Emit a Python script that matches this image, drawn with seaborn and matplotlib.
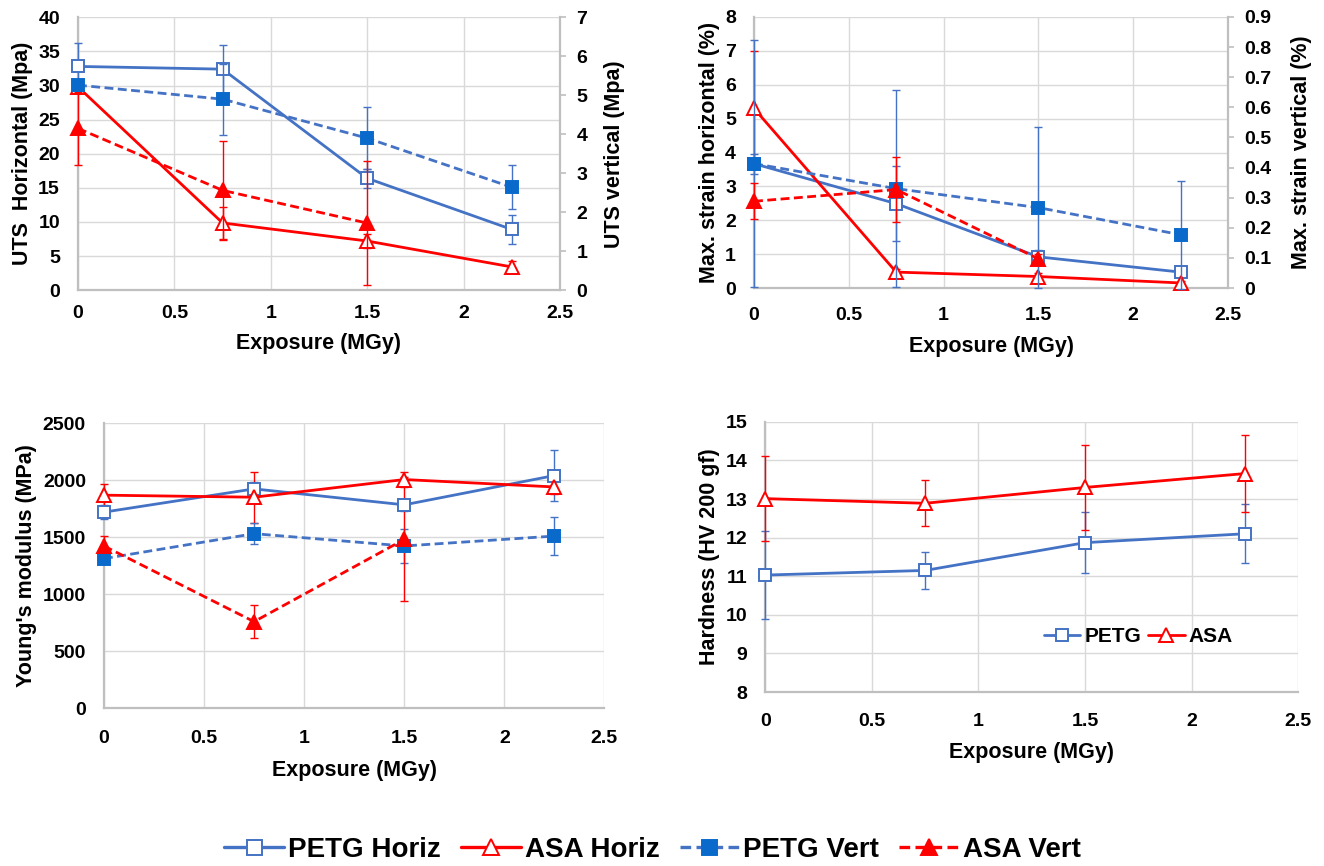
import matplotlib
matplotlib.use("Agg")
import matplotlib.pyplot as plt
from matplotlib.lines import Line2D
import seaborn as sns
import numpy as np

# ---------------- data ----------------
exposure = [0, 0.75, 1.5, 2.25]
exposure_asa_vert = [0, 0.75, 1.5]

# UTS
uts_petg_h = [32.8, 32.4, 16.4, 8.9]
uts_petg_h_err = [3.5, 3.6, 1.4, 2.1]
uts_asa_h = [29.8, 9.85, 7.2, 3.4]
uts_asa_h_err = [0.5, 2.3, 1.0, 0.8]
uts_petg_v = [5.26, 4.90, 3.90, 2.64]
uts_petg_v_err = [0.10, 0.91, 0.79, 0.56]
uts_asa_v = [4.15, 2.56, 1.72]
uts_asa_v_err = [0.93, 1.27, 1.60]

# Max strain
str_petg_h = [3.67, 2.49, 0.92, 0.47]
str_petg_h_err = [0.3, 1.1, 0.2, 0.1]
str_asa_h = [5.3, 0.47, 0.34, 0.15]
str_asa_h_err = [1.7, 0.1, 0.1, 0.05]
str_petg_v = [0.413, 0.330, 0.267, 0.177]
str_petg_v_err = [0.41, 0.326, 0.267, 0.18]
str_asa_v = [0.288, 0.327, 0.097]
str_asa_v_err = [0.06, 0.107, 0.015]

# Young's modulus
ym_petg_h = [1719, 1923, 1783, 2040]
ym_petg_h_err = [60, 60, 50, 225]
ym_asa_h = [1868, 1850, 2005, 1940]
ym_asa_h_err = [100, 225, 67, 60]
ym_petg_v = [1311, 1530, 1422, 1509]
ym_petg_v_err = [40, 90, 145, 163]
ym_asa_v = [1422, 758, 1480]
ym_asa_v_err = [90, 145, 545]

# Hardness
hv_petg = [11.03, 11.15, 11.87, 12.10]
hv_petg_err = [1.13, 0.47, 0.79, 0.76]
hv_asa = [13.01, 12.89, 13.30, 13.66]
hv_asa_err = [1.10, 0.60, 1.10, 1.00]

legend_labels = ["PETG Horiz", "ASA Horiz", "PETG Vert", "ASA Vert"]

# ---------------- style ----------------
sns.set_style("white")
plt.rcParams['font.family'] = ['Liberation Sans', 'DejaVu Sans']
plt.rcParams['font.weight'] = 'bold'
plt.rcParams['text.color'] = 'black'
plt.rcParams['axes.labelcolor'] = 'black'
plt.rcParams['xtick.color'] = 'black'
plt.rcParams['ytick.color'] = 'black'

BLUE = '#4472C4'
BLUE_F = '#0A6ACB'
RED = '#FF0000'
GRID = '#D9D9D9'
SPINE = '#BFBFBF'
TICK_FS = 14
LABEL_FS = 15.5

DASH = (0, (3.2, 1.6))

styles = {
    'petg_h': dict(color=BLUE, marker='s', ms=9, mfc='white', mec=BLUE, ls='-', lw=2.0),
    'asa_h': dict(color=RED, marker='^', ms=10, mfc='white', mec=RED, ls='-', lw=2.0),
    'petg_v': dict(color=BLUE, marker='s', ms=9, mfc=BLUE_F, mec=BLUE_F, ls=DASH, lw=2.0),
    'asa_v': dict(color=RED, marker='^', ms=10, mfc=RED, mec=RED, ls=DASH, lw=2.0),
}


def series(ax, x, y, err, key, z=3):
    st = styles[key]
    cont = ax.errorbar(x, y, yerr=err, fmt='none', ecolor=st['color'], elinewidth=1.0,
                       capsize=3, capthick=1.0, zorder=z)
    for art in cont.get_children():
        art.set_clip_on(False)
    sns.lineplot(x=x, y=y, ax=ax, color=st['color'], linestyle=st['ls'], linewidth=st['lw'],
                 marker=st['marker'], markersize=st['ms'], markerfacecolor=st['mfc'],
                 markeredgecolor=st['mec'], markeredgewidth=1.4, sort=False,
                 errorbar=None, zorder=z + 1, clip_on=False)


def style_axes(ax, ylim, yticks, xpad, xlabelpad):
    ax.set_xlim(0, 2.5)
    ax.set_xticks([0, 0.5, 1, 1.5, 2, 2.5])
    ax.set_xticklabels(['0', '0.5', '1', '1.5', '2', '2.5'])
    ax.set_ylim(*ylim)
    ax.set_yticks(yticks)
    ax.grid(True, color=GRID, lw=1.0)
    ax.set_axisbelow(True)
    for s in ['top', 'right']:
        ax.spines[s].set_visible(False)
    for s in ['left', 'bottom']:
        ax.spines[s].set_color(SPINE)
        ax.spines[s].set_linewidth(1.6)
    ax.tick_params(axis='both', length=0, labelsize=TICK_FS, labelcolor='black')
    ax.tick_params(axis='x', pad=xpad)
    ax.tick_params(axis='y', pad=13)
    for lab in ax.get_xticklabels() + ax.get_yticklabels():
        lab.set_fontweight('bold')
    ax.set_xlabel('Exposure (MGy)', fontsize=LABEL_FS, fontweight='bold',
                  labelpad=xlabelpad, color='black')


def style_twin(ax2, ylim, yticks, labels):
    ax2.set_ylim(*ylim)
    ax2.set_yticks(yticks)
    ax2.set_yticklabels(labels)
    ax2.grid(False)
    for s in ['top', 'left', 'bottom']:
        ax2.spines[s].set_visible(False)
    ax2.spines['right'].set_color(SPINE)
    ax2.spines['right'].set_linewidth(1.6)
    ax2.tick_params(axis='y', length=4, width=1.2, color=SPINE, labelcolor='black',
                    labelsize=TICK_FS, pad=8)
    for lab in ax2.get_yticklabels():
        lab.set_fontweight('bold')


fig = plt.figure(figsize=(13.24, 8.66), dpi=100)

# ---- Panel 1: UTS ----
ax1 = fig.add_axes([0.0589, 0.665, 0.364, 0.315])
series(ax1, exposure, uts_petg_h, uts_petg_h_err, 'petg_h')
series(ax1, exposure, uts_asa_h, uts_asa_h_err, 'asa_h')
style_axes(ax1, (0, 40), np.arange(0, 41, 5), xpad=11, xlabelpad=8)
ax1.set_ylabel('UTS  Horizontal (Mpa)', fontsize=LABEL_FS, fontweight='bold', labelpad=4)
ax1b = ax1.twinx()
series(ax1b, exposure, uts_petg_v, uts_petg_v_err, 'petg_v')
series(ax1b, exposure_asa_vert, uts_asa_v, uts_asa_v_err, 'asa_v')
style_twin(ax1b, (0, 7), range(0, 8), [str(i) for i in range(0, 8)])
ax1b.set_ylabel('UTS vertical (Mpa)', fontsize=LABEL_FS, fontweight='bold', labelpad=12)

# ---- Panel 2: strain ----
ax2 = fig.add_axes([0.5695, 0.6674, 0.358, 0.313])
series(ax2, exposure, str_petg_h, str_petg_h_err, 'petg_h')
series(ax2, exposure, str_asa_h, str_asa_h_err, 'asa_h')
style_axes(ax2, (0, 8), range(0, 9), xpad=14, xlabelpad=8)
ax2.set_ylabel('Max. strain horizontal (%)', fontsize=LABEL_FS, fontweight='bold', labelpad=4)
ax2b = ax2.twinx()
series(ax2b, exposure, str_petg_v, str_petg_v_err, 'petg_v')
series(ax2b, exposure_asa_vert, str_asa_v, str_asa_v_err, 'asa_v')
rt = [round(0.1 * i, 1) for i in range(10)]
style_twin(ax2b, (0, 0.9), rt, ['0'] + [f'{v:.1f}' for v in rt[1:]])
ax2b.set_ylabel('Max. strain vertical (%)', fontsize=LABEL_FS, fontweight='bold', labelpad=14)

# ---- Panel 3: Young's modulus ----
ax3 = fig.add_axes([0.0785, 0.1824, 0.378, 0.329])
series(ax3, exposure, ym_petg_h, ym_petg_h_err, 'petg_h')
series(ax3, exposure, ym_asa_h, ym_asa_h_err, 'asa_h')
series(ax3, exposure, ym_petg_v, ym_petg_v_err, 'petg_v')
series(ax3, exposure_asa_vert, ym_asa_v, ym_asa_v_err, 'asa_v')
style_axes(ax3, (0, 2500), range(0, 2501, 500), xpad=16, xlabelpad=9)
ax3.set_ylabel("Young's modulus (MPa)", fontsize=LABEL_FS, fontweight='bold', labelpad=4)

# ---- Panel 4: hardness ----
ax4 = fig.add_axes([0.578, 0.2009, 0.4026, 0.312])
series(ax4, exposure, hv_petg, hv_petg_err, 'petg_h')
series(ax4, exposure, hv_asa, hv_asa_err, 'asa_h')
style_axes(ax4, (8, 15), range(8, 16), xpad=15, xlabelpad=9)
ax4.set_ylabel('Hardness (HV 200 gf)', fontsize=LABEL_FS, fontweight='bold', labelpad=4)


def handle(key, scale=1.0):
    st = styles[key]
    return Line2D([], [], color=st['color'], linestyle=st['ls'], linewidth=st['lw'] * scale,
                  marker=st['marker'], markersize=st['ms'] * scale, markerfacecolor=st['mfc'],
                  markeredgecolor=st['mec'], markeredgewidth=1.4)


ax4.legend([handle('petg_h'), handle('asa_h')], ['PETG', 'ASA'],
           loc='center', bbox_to_anchor=(0.70, 0.204), ncol=2, frameon=False,
           prop={'weight': 'bold', 'size': 15}, handlelength=1.75,
           handletextpad=0.2, columnspacing=0.33, labelcolor='black')

fig.legend([handle(k, 1.2) for k in ['petg_h', 'asa_h', 'petg_v', 'asa_v']], legend_labels,
           loc='center', bbox_to_anchor=(0.493, 0.019), ncol=4, frameon=False,
           prop={'weight': 'bold', 'size': 20}, handlelength=2.15,
           handletextpad=0.15, columnspacing=0.72, labelcolor='black')

fig.savefig('out.png', dpi=100)
